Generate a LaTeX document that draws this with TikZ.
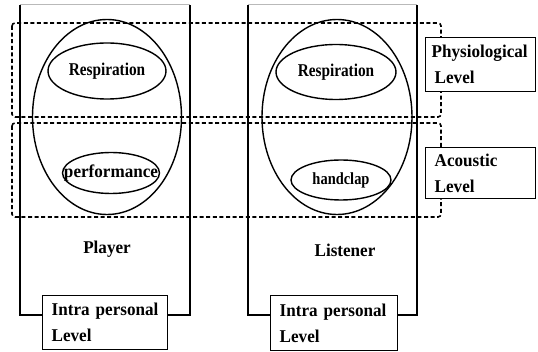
\documentclass[tikz,border=0pt]{standalone}
\usepackage{fontspec}
\setmainfont{Liberation Serif}
\newfontfamily\narrowA[FakeStretch=0.85]{Liberation Serif}
\newfontfamily\narrowB[FakeStretch=0.95]{Liberation Serif}
\usetikzlibrary{shapes.geometric}
\begin{document}
\begin{tikzpicture}[x=1pt,y=-1pt,
  lbl/.style={font=\narrowB\fontsize{18}{25}\selectfont\bfseries, inner sep=0pt},
  inlbl/.style={font=\narrowA\fontsize{18}{20}\selectfont\bfseries, inner sep=0pt},
  dashbox/.style={draw, dash pattern=on 4pt off 2.6pt, line width=1.6pt, rounded corners=3pt},
  personline/.style={draw, line width=1.4pt},
  toplineg/.style={draw, line width=1pt, gray!55},
  oval/.style={draw, ellipse, line width=1.4pt, inner sep=0pt},
  levelbox/.style={draw, fill=white, line width=1.4pt, align=left, inner ysep=0pt,
    font=\narrowB\fontsize{18}{26}\selectfont\bfseries, anchor=north west}
]
\useasboundingbox (0,0) rectangle (538,352);
% dashed level bands
\draw[dashbox] (12,23) rectangle (441,117);
\draw[dashbox] (12,123) rectangle (441,217);
% person boxes
\draw[personline] (20,5) -- (20,315) -- (190,315) -- (190,5);
\draw[toplineg] (20,5) -- (190,5);
\draw[personline] (248,5) -- (248,315) -- (417,315) -- (417,5);
\draw[toplineg] (248,5) -- (417,5);
% big ellipses
\node[oval, minimum width=149, minimum height=195] (pbig) at (107,117) {};
\node[oval, minimum width=150, minimum height=195] (lbig) at (337,117) {};
% inner ellipses
\node[oval, minimum width=118, minimum height=56] (presp) at (107,71) {};
\node[inlbl] (presp-t) at (presp.center) {Respiration};
\node[oval, minimum width=97, minimum height=41] (pperf) at (111,173) {};
\node[inlbl, font=\narrowB\fontsize{18}{20}\selectfont\bfseries] (pperf-t) at (pperf.center) {performance};
\node[oval, minimum width=120, minimum height=55] (lresp) at (336,72) {};
\node[inlbl] (lresp-t) at (lresp.center) {Respiration};
\node[oval, minimum width=100, minimum height=40] (lclap) at (341,180) {};
\node[inlbl, font=\narrowA\fontsize{17}{20}\selectfont\bfseries] (lclap-t) at (lclap.center) {handclap};
% person labels
\node[lbl] (player) at (107,249) {Player};
\node[lbl] (listener) at (345,250) {Listener};
% level boxes
\node[levelbox, inner xsep=6pt, text width=98pt, minimum height=54pt] (phys) at (425,37)
  {Physiological\\\hspace*{3pt}Level};
\node[levelbox, inner xsep=9pt, text width=92pt, minimum height=51pt] (acou) at (425,147)
  {Acoustic\\Level};
\node[levelbox, inner xsep=9pt, text width=107pt, minimum height=54pt] (pintra) at (42,295)
  {Intra personal\\Level};
\node[levelbox, inner xsep=9pt, text width=109pt, minimum height=55pt] (lintra) at (270,295)
  {Intra personal\\Level};
\end{tikzpicture}
\end{document}
